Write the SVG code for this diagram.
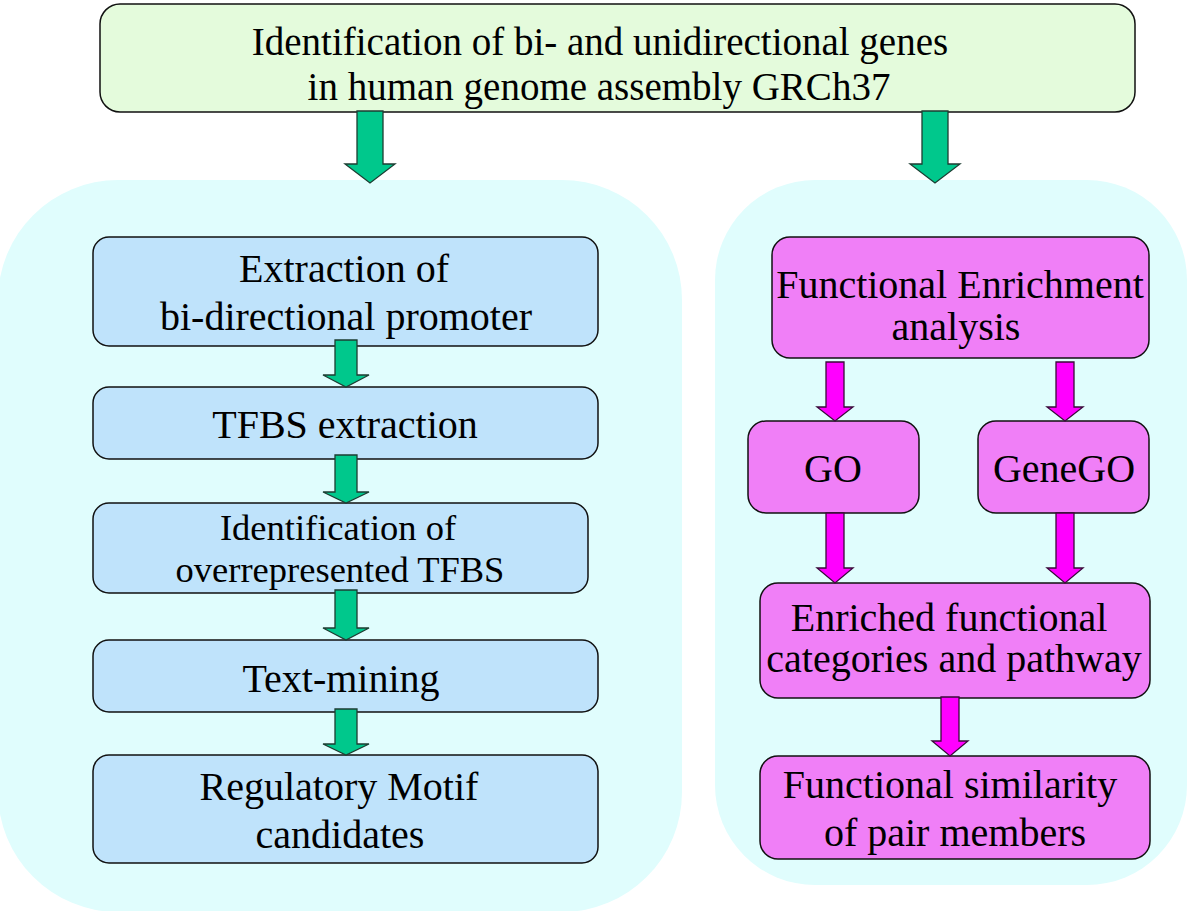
<svg xmlns="http://www.w3.org/2000/svg" width="1200" height="911" viewBox="0 0 1200 911">
<style>
text{font-family:"Liberation Serif","Times New Roman",serif;font-size:40px;fill:#000;text-anchor:middle}
.top{fill:#e4fbdc;stroke:#111;stroke-width:1.5}
.panel{fill:#e0fdfd;stroke:none}
.blue{fill:#bfe3fb;stroke:#111;stroke-width:1.5}
.mag{fill:#f07ff7;stroke:#111;stroke-width:1.5}
.ga{fill:#00c88c;stroke:#1d3d32;stroke-width:1.3}
.ma{fill:#ff00ff;stroke:#3a0a3a;stroke-width:1.3}
</style>
<rect width="1200" height="911" fill="#fff"/>
<g id="panels">
<rect class="panel" x="-2" y="180" width="684" height="732" rx="120"/>
<rect class="panel" x="715" y="180" width="472" height="705" rx="100"/>
</g>
<g id="n-top">
<rect class="top" x="100" y="4" width="1035" height="108" rx="20"/>
<text x="600" y="55" style="font-size:39px">Identification of bi- and unidirectional genes</text>
<text x="599" y="100" style="font-size:39px">in human genome assembly GRCh37</text>
</g>
<g id="n-extract">
<rect class="blue" x="93" y="237" width="505" height="109" rx="16"/>
<text x="344" y="282">Extraction of</text>
<text x="346" y="330">bi-directional promoter</text>
</g>
<g id="n-tfbs">
<rect class="blue" x="93" y="387" width="505" height="72" rx="16"/>
<text x="345" y="438">TFBS extraction</text>
</g>
<g id="n-over">
<rect class="blue" x="93" y="503" width="495" height="90" rx="16"/>
<text x="338" y="540" style="font-size:36.5px">Identification of</text>
<text x="340" y="582" style="font-size:36.5px">overrepresented TFBS</text>
</g>
<g id="n-text">
<rect class="blue" x="93" y="640" width="505" height="72" rx="16"/>
<text x="341" y="692">Text-mining</text>
</g>
<g id="n-motif">
<rect class="blue" x="93" y="755" width="505" height="108" rx="16"/>
<text x="339" y="800">Regulatory Motif</text>
<text x="340" y="848">candidates</text>
</g>
<g id="n-fe">
<rect class="mag" x="772" y="237" width="377" height="121" rx="18"/>
<text x="960" y="298">Functional Enrichment</text>
<text x="956" y="340">analysis</text>
</g>
<g id="n-go">
<rect class="mag" x="748" y="421" width="171" height="92" rx="18"/>
<text x="833" y="482">GO</text>
</g>
<g id="n-genego">
<rect class="mag" x="978" y="421" width="171" height="92" rx="18"/>
<text x="1064" y="482">GeneGO</text>
</g>
<g id="n-enriched">
<rect class="mag" x="760" y="583" width="390" height="115" rx="18"/>
<text x="949" y="631">Enriched functional</text>
<text x="954" y="672">categories and pathway</text>
</g>
<g id="n-similar">
<rect class="mag" x="760" y="756" width="390" height="103" rx="18"/>
<text x="950" y="798">Functional similarity</text>
<text x="955" y="846">of pair members</text>
</g>
<g id="connectors">
<polygon class="ga" points="357,111 383,111 383,164 395,164 370,183 345,164 357,164"/>
<polygon class="ga" points="922,111 948,111 948,164 960,164 935,183 910,164 922,164"/>
<polygon class="ga" points="335,340 357,340 357,375 369,375 346,387 323,375 335,375"/>
<polygon class="ga" points="335,455 357,455 357,492 369,492 346,503 323,492 335,492"/>
<polygon class="ga" points="335,590 357,590 357,628 369,628 346,640 323,628 335,628"/>
<polygon class="ga" points="335,709 357,709 357,744 369,744 346,755 323,744 335,744"/>
<polygon class="ma" points="826,362 844,362 844,407 853,407 835,421 817,407 826,407"/>
<polygon class="ma" points="1056,362 1074,362 1074,407 1083,407 1065,421 1047,407 1056,407"/>
<polygon class="ma" points="826,513 844,513 844,568 853,568 835,583 817,568 826,568"/>
<polygon class="ma" points="1056,513 1074,513 1074,568 1083,568 1065,583 1047,568 1056,568"/>
<polygon class="ma" points="941,697 959,697 959,741 968,741 950,756 932,741 941,741"/>
</g>
</svg>
